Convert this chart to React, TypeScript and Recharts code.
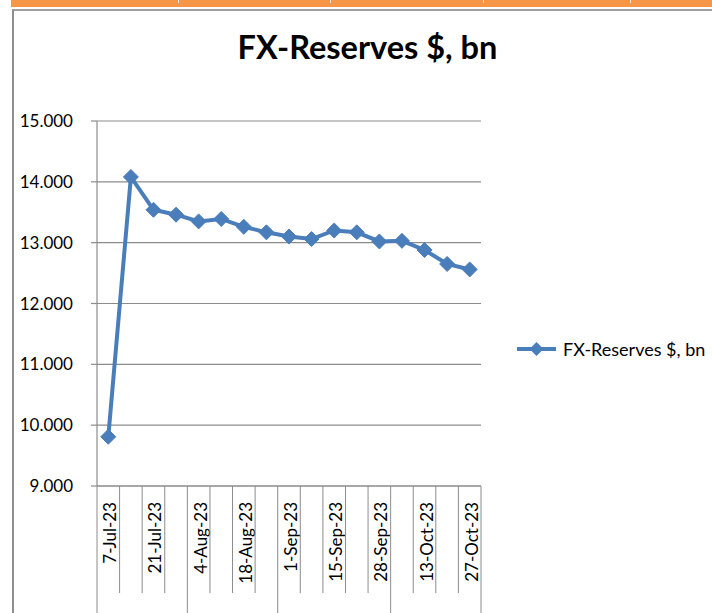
import React from 'react';
import { LineChart, Line, XAxis, YAxis, CartesianGrid, Legend } from 'recharts';

const dates = ['7-Jul-23','14-Jul-23','21-Jul-23','28-Jul-23','4-Aug-23','11-Aug-23','18-Aug-23','25-Aug-23','1-Sep-23','8-Sep-23','15-Sep-23','22-Sep-23','28-Sep-23','6-Oct-23','13-Oct-23','20-Oct-23','27-Oct-23'];
const reserves = [9.81, 14.08, 13.54, 13.46, 13.35, 13.39, 13.26, 13.17, 13.1, 13.06, 13.2, 13.17, 13.02, 13.03, 12.88, 12.65, 12.56];
const yTicks = [9, 10, 11, 12, 13, 14, 15];
const seriesName = 'FX-Reserves $, bn';
const title = 'FX-Reserves $, bn';

const data = dates.map((d, i) => ({ date: d, value: reserves[i] }));

const W = 712;
const H = 613;
const PLOT_LEFT = 97;
const PLOT_RIGHT = 481;
const PLOT_TOP = 121;
const X_AXIS_H = 127;
const BW = (PLOT_RIGHT - PLOT_LEFT) / dates.length;
const FONT = "Lato, 'Liberation Sans', sans-serif";
const BLUE = '#4A7EBB';
const GRID = '#8c8c8c';

const month = (s: string) => s.split('-')[1];

const XTick = (props: any) => {
  const { x, y, payload } = props;
  const i = payload.index;
  const isMonthStart = i === 0 || month(dates[i]) !== month(dates[i - 1]);
  const isLast = i === dates.length - 1;
  const left = x - BW / 2;
  const right = x + BW / 2;
  return (
    <g>
      <line x1={left} y1={y} x2={left} y2={y + (isMonthStart ? X_AXIS_H : 107)} stroke={GRID} strokeWidth={1} />
      {isLast && <line x1={right} y1={y} x2={right} y2={y + X_AXIS_H} stroke={GRID} strokeWidth={1} />}
      {i % 2 === 0 && (
        <text
          transform={`translate(${x + 8},${y + 16}) rotate(-90)`}
          textAnchor="end"
          fontFamily={FONT}
          fontSize={17}
          fill="#000"
        >
          {payload.value}
        </text>
      )}
    </g>
  );
};

const Diamond = (props: any) => {
  const { cx, cy } = props;
  if (cx == null || cy == null) return null;
  const r = 7.5;
  return <path d={`M${cx},${cy - r} L${cx + r},${cy} L${cx},${cy + r} L${cx - r},${cy} Z`} fill={BLUE} stroke={BLUE} strokeWidth={1} />;
};

const LegendContent = () => (
  <div style={{ display: 'flex', alignItems: 'center', fontFamily: FONT, fontSize: 18, color: '#000', whiteSpace: 'nowrap' }}>
    <svg width={42} height={20} style={{ marginRight: 5 }}>
      <line x1={1} y1={10} x2={40} y2={10} stroke={BLUE} strokeWidth={4} />
      <path d="M20.5,3 L27.5,10 L20.5,17 L13.5,10 Z" fill={BLUE} />
    </svg>
    <span>{seriesName}</span>
  </div>
);

export default function App() {
  return (
    <div style={{ position: 'absolute', left: 0, top: 0, width: W, height: H, overflow: 'hidden', background: '#fff' }}>
      <div style={{ position: 'absolute', left: 11, top: 0, width: W - 11, height: 7, background: '#F79646' }} />
      {[178, 330, 483, 630].map((x) => (
        <div key={x} style={{ position: 'absolute', left: x, top: 0, width: 1, height: 3, background: '#fbe3cf' }} />
      ))}
      <div style={{ position: 'absolute', left: 12, top: 9, width: 800, height: 700, borderLeft: '2px solid #8f8f8f', borderTop: '2px solid #9f9f9f' }} />
      <div style={{ position: 'absolute', left: 0, top: 27, width: 735, textAlign: 'center', fontFamily: FONT, fontWeight: 700, fontSize: 32.5, color: '#000' }}>
        {title}
      </div>
      <div style={{ position: 'absolute', left: 0, top: 0 }}>
        <LineChart width={W} height={H} data={data} margin={{ top: PLOT_TOP, right: W - PLOT_RIGHT, bottom: 0, left: 0 }}>
          <CartesianGrid vertical={false} stroke={GRID} strokeWidth={1.2} />
          <XAxis
            dataKey="date"
            scale="band"
            interval={0}
            height={X_AXIS_H}
            tickSize={0}
            tickMargin={0}
            axisLine={{ stroke: GRID, strokeWidth: 1.2 }}
            tickLine={false}
            tick={<XTick />}
          />
          <YAxis
            domain={[9, 15]}
            ticks={yTicks}
            width={PLOT_LEFT}
            tickFormatter={(v: number) => v.toFixed(3)}
            axisLine={{ stroke: GRID, strokeWidth: 1.2 }}
            tickLine={{ stroke: GRID, strokeWidth: 1.2 }}
            tickSize={6}
            tickMargin={18}
            tick={{ fontFamily: FONT, fontSize: 17, fill: '#000' }}
            allowDataOverflow
          />
          <Legend
            layout="vertical"
            align="center"
            verticalAlign="middle"
            content={<LegendContent />}
            wrapperStyle={{ left: 516, top: 338, width: 200 }}
          />
          <Line
            type="linear"
            dataKey="value"
            name={seriesName}
            stroke={BLUE}
            strokeWidth={4}
            dot={<Diamond />}
            activeDot={false}
            isAnimationActive={false}
          />
        </LineChart>
      </div>
    </div>
  );
}
